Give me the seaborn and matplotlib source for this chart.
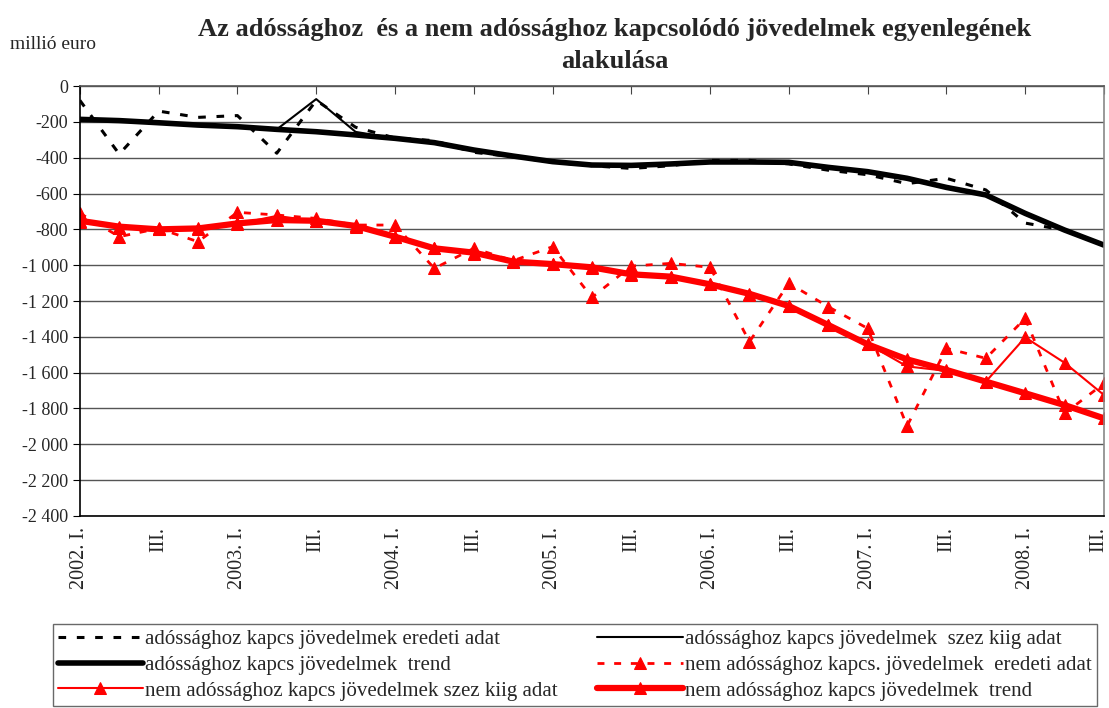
import pandas as pd
import matplotlib
matplotlib.use("Agg")
import matplotlib.pyplot as plt
import matplotlib.transforms as mtransforms
import seaborn as sns
import numpy as np

# quarters 2002 I .. 2008 III
quarters = ["2002. I.", "II.", "III.", "IV.", "2003. I.", "II.", "III.", "IV.",
            "2004. I.", "II.", "III.", "IV.", "2005. I.", "II.", "III.", "IV.",
            "2006. I.", "II.", "III.", "IV.", "2007. I.", "II.", "III.", "IV.",
            "2008. I.", "II.", "III."]

debt_orig = [-80, -380, -140, -175, -165, -375, -80, -230, -290, -305, -370, -395, -425, -445,
             -460, -445, -415, -415, -435, -470, -495, -545, -515, -580, -765, -805, -890]
debt_sa = [-186, -193, -205, -218, -227, -242, -73, -256, -292, -316, -357, -391, -422, -441,
           -443, -435, -424, -424, -426, -454, -478, -515, -566, -608, -711, -804, -888]
debt_trend = [-186, -193, -205, -218, -227, -242, -255, -273, -292, -316, -357, -391, -422, -441,
              -443, -435, -424, -424, -426, -454, -478, -515, -566, -608, -711, -804, -888]

nondebt_orig = [-710, -841, -795, -869, -705, -720, -739, -776, -776, -1018, -906, -975, -897,
                -1180, -1005, -990, -1012, -1427, -1101, -1232, -1353, -1898, -1464, -1520,
                -1297, -1827, -1660]
nondebt_sa = [-760, -790, -800, -800, -770, -725, -755, -785, -845, -905, -935, -980, -995,
              -1015, -1055, -1065, -1105, -1165, -1230, -1335, -1440, -1565, -1590, -1650,
              -1403, -1545, -1725]
nondebt_trend = [-752, -785, -800, -795, -767, -748, -752, -781, -841, -906, -930, -980, -994,
                 -1012, -1051, -1064, -1107, -1160, -1228, -1334, -1442, -1526, -1585, -1650,
                 -1715, -1781, -1855]

labels = ["adóssághoz kapcs jövedelmek eredeti adat",
          "adóssághoz kapcs jövedelmek  szez kiig adat",
          "adóssághoz kapcs jövedelmek  trend",
          "nem adóssághoz kapcs. jövedelmek  eredeti adat",
          "nem adóssághoz kapcs jövedelmek szez kiig adat",
          "nem adóssághoz kapcs jövedelmek  trend"]

sns.set_style("white")
plt.rcParams["font.family"] = ["Liberation Serif", "DejaVu Serif"]

x = np.arange(len(quarters))

fig = plt.figure(figsize=(11.09, 7.08), dpi=100)
ax = fig.add_axes([0.072, 0.2712, 0.9235, 0.6073])

handles = {}
sns.lineplot(x=x, y=debt_orig, ax=ax, color="black", lw=2.2)
ax.lines[-1].set_dashes((2.5, 3.5))
handles[0] = ax.lines[-1]
sns.lineplot(x=x, y=debt_sa, ax=ax, color="black", lw=1.5)
handles[1] = ax.lines[-1]
sns.lineplot(x=x, y=debt_trend, ax=ax, color="black", lw=4)
handles[2] = ax.lines[-1]
sns.lineplot(x=x, y=nondebt_orig, ax=ax, color="red", lw=2, marker="^", markersize=8,
             markeredgecolor="red")
ax.lines[-1].set_dashes((2.5, 3.5))
handles[3] = ax.lines[-1]
sns.lineplot(x=x, y=nondebt_sa, ax=ax, color="red", lw=1.5, marker="^", markersize=8,
             markeredgecolor="red")
handles[4] = ax.lines[-1]
sns.lineplot(x=x, y=nondebt_trend, ax=ax, color="red", lw=4.5, marker="^", markersize=8,
             markeredgecolor="red")
handles[5] = ax.lines[-1]

ax.set_xlim(0, len(quarters) - 1)
ax.set_ylim(-2400, 0)
yt = np.arange(-2400, 1, 200)
ax.set_yticks(yt)
ax.set_yticklabels([f"{v:,}".replace(",", " ") for v in yt], fontsize=13)
ax.yaxis.grid(True, color="#555555", lw=1)
ax.tick_params(axis="y", left=True, length=5, color="black")

ax.set_xticks(x[::2])
ax.set_xticklabels(quarters[::2], rotation=90, fontsize=14.5, va="top")
ax.tick_params(axis="x", top=True, bottom=False, labeltop=False, labelbottom=True,
               direction="in", length=6, pad=8, color="#444444")
# nudge the last label so it stays inside the picture
last = ax.get_xticklabels()[-1]
last.set_transform(last.get_transform() +
                   mtransforms.ScaledTranslation(-5 / 100, 0, fig.dpi_scale_trans))

for s in ax.spines.values():
    s.set_color("black")
    s.set_linewidth(1.2)
ax.spines["right"].set_color("#888888")
ax.spines["top"].set_color("#555555")

fig.text(0.554, 0.958, "Az adóssághoz  és a nem adóssághoz kapcsolódó jövedelmek egyenlegének",
         ha="center", va="center", fontsize=19, fontweight="bold")
fig.text(0.554, 0.913, "alakulása", ha="center", va="center", fontsize=19, fontweight="bold")
fig.text(0.009, 0.937, "millió euro", ha="left", va="center", fontsize=14)

order = [0, 2, 4, 1, 3, 5]
leg = fig.legend([handles[i] for i in order], [labels[i] for i in order], ncol=2,
                 loc="upper left", bbox_to_anchor=(0.038, 0.133), frameon=True, fontsize=15,
                 handlelength=4.1, handletextpad=0.1, columnspacing=1.9, labelspacing=0.3,
                 borderpad=0.25, fancybox=False, edgecolor="#444444")
leg.get_frame().set_linewidth(1.0)

fig.savefig("out.png", dpi=100)
